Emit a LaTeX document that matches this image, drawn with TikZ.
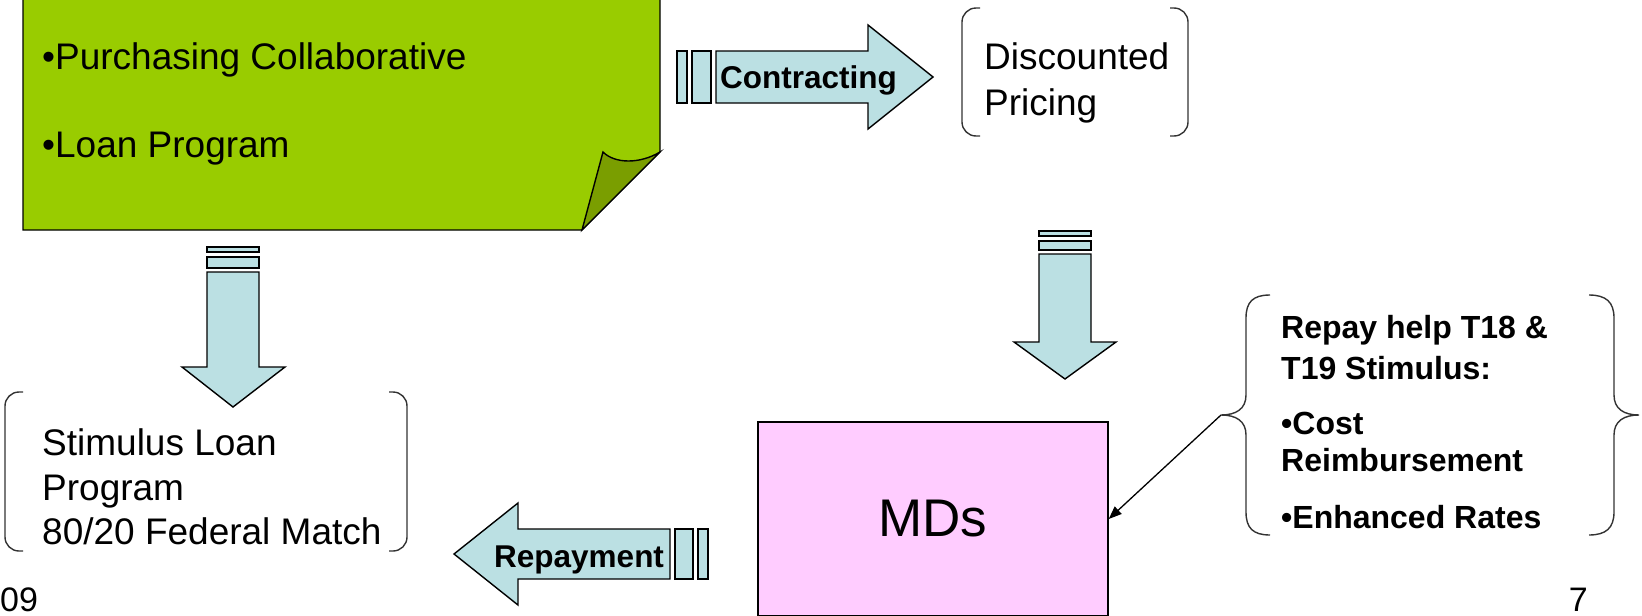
\documentclass[tikz,border=0pt]{standalone}
\usepackage{fontspec}
\setmainfont{Liberation Sans}
\usetikzlibrary{arrows.meta}
\definecolor{notegreen}{HTML}{99CC00}
\definecolor{flapgreen}{HTML}{7A9E00}
\definecolor{arrowblue}{HTML}{BBE0E3}
\definecolor{mdpink}{HTML}{FFCCFF}
\definecolor{bracketgray}{HTML}{333333}
\begin{document}
\begin{tikzpicture}[x=1pt,y=-1pt,
  outline/.style={draw=black, line width=1.4},
  blockarrow/.style={outline, fill=arrowblue},
  bracket/.style={draw=bracketgray, line width=1.4, rounded corners=14},
  brace/.style={draw=bracketgray, line width=1.4},
  bodytext/.style={inner sep=0, anchor=base west, font=\fontsize{37}{44}\selectfont},
  boldtext/.style={inner sep=0, anchor=base west, font=\fontsize{32}{38}\selectfont\bfseries},
  arrowlabel/.style={inner sep=0, anchor=base west, font=\fontsize{31.5}{38}\selectfont\bfseries},
  pagetext/.style={inner sep=0, font=\fontsize{34}{40}\selectfont},
  pointer/.style={draw=black, line width=1.3, -{Triangle[length=13pt,width=10pt]}}
]
\useasboundingbox (0,0) rectangle (1642,616);

% green sticky note
\draw[outline, fill=notegreen] (23,-5) -- (660,-5) -- (660,152) -- (582,230) -- (23,230) -- cycle;
\draw[outline, fill=flapgreen] (582,230) -- (603,152) .. controls (615,164) and (640,164) .. (660,152) -- cycle;
\node[bodytext] (purch) at (42,69) {•Purchasing Collaborative};
\node[bodytext] (loanp) at (42,157) {•Loan Program};

% Contracting arrow
\path[blockarrow] (677,51) rectangle (687,103);
\path[blockarrow] (692,51) rectangle (711,103);
\path[blockarrow] (716,51) -- (868,51) -- (868,25) -- (933,77) -- (868,129) -- (868,103) -- (716,103) -- cycle;
\node[arrowlabel] (contr) at (720,88) {Contracting};

% Discounted pricing
\draw[bracket] (980,8) -- (962,8) -- (962,136) -- (980,136);
\draw[bracket] (1170,8) -- (1188,8) -- (1188,136) -- (1170,136);
\node[bodytext] (disc1) at (984,69) {Discounted};
\node[bodytext] (disc2) at (984,115) {Pricing};

% right down arrow
\path[blockarrow] (1039,231) rectangle (1091,236);
\path[blockarrow] (1039,241) rectangle (1091,250);
\path[blockarrow] (1039,254) -- (1091,254) -- (1091,342) -- (1116,342) -- (1065,379) -- (1014,342) -- (1039,342) -- cycle;

% left down arrow
\path[blockarrow] (207,247) rectangle (259,252);
\path[blockarrow] (207,257) rectangle (259,268);
\path[blockarrow] (207,272) -- (259,272) -- (259,367) -- (285,367) -- (233,407) -- (182,367) -- (207,367) -- cycle;

% Stimulus loan program
\draw[bracket] (23,392) -- (5,392) -- (5,551) -- (23,551);
\draw[bracket] (389,392) -- (407,392) -- (407,551) -- (389,551);
\node[bodytext] (stim1) at (42,455) {Stimulus Loan};
\node[bodytext] (stim2) at (42,500) {Program};
\node[bodytext] (stim3) at (42,544) {80/20 Federal Match};

% Repayment arrow
\path[blockarrow] (670,529) -- (518,529) -- (518,503) -- (454,554) -- (518,605) -- (518,579) -- (670,579) -- cycle;
\path[blockarrow] (675,529) rectangle (693,579);
\path[blockarrow] (698,529) rectangle (708,579);
\node[arrowlabel] (repay) at (494,567) {Repayment};

% MDs box
\node[outline, fill=mdpink, minimum width=350, minimum height=194, inner sep=0,
      font=\fontsize{53}{60}\selectfont] (md) at (933,519) {MDs};

% braces and text
\draw[brace] (1270,295) .. controls (1253,295) and (1246,302) .. (1246,318) -- (1246,395)
  .. controls (1246,409) and (1236,415) .. (1221,415)
  .. controls (1236,415) and (1246,421) .. (1246,435) -- (1246,512)
  .. controls (1246,528) and (1253,535) .. (1270,535);
\draw[brace] (1589,295) .. controls (1606,295) and (1614,302) .. (1614,318) -- (1614,395)
  .. controls (1614,409) and (1624,415) .. (1639,415)
  .. controls (1624,415) and (1614,421) .. (1614,435) -- (1614,512)
  .. controls (1614,528) and (1606,535) .. (1589,535);
\coordinate (cusp) at (1221,415);
\node[boldtext] (rt1) at (1281,338) {Repay help T18 \&};
\node[boldtext] (rt2) at (1281,379) {T19 Stimulus:};
\node[boldtext] (rt3) at (1281,434) {•Cost};
\node[boldtext] (rt4) at (1281,471) {Reimbursement};
\node[boldtext] (rt5) at (1281,528) {•Enhanced Rates};
\draw[pointer] (cusp) -- (md.east);

% page footer fragments
\node[pagetext, anchor=base west] (pgl) at (0,611) {09};
\node[pagetext, anchor=base east] (pgr) at (1588,611) {7};
\end{tikzpicture}
\end{document}
